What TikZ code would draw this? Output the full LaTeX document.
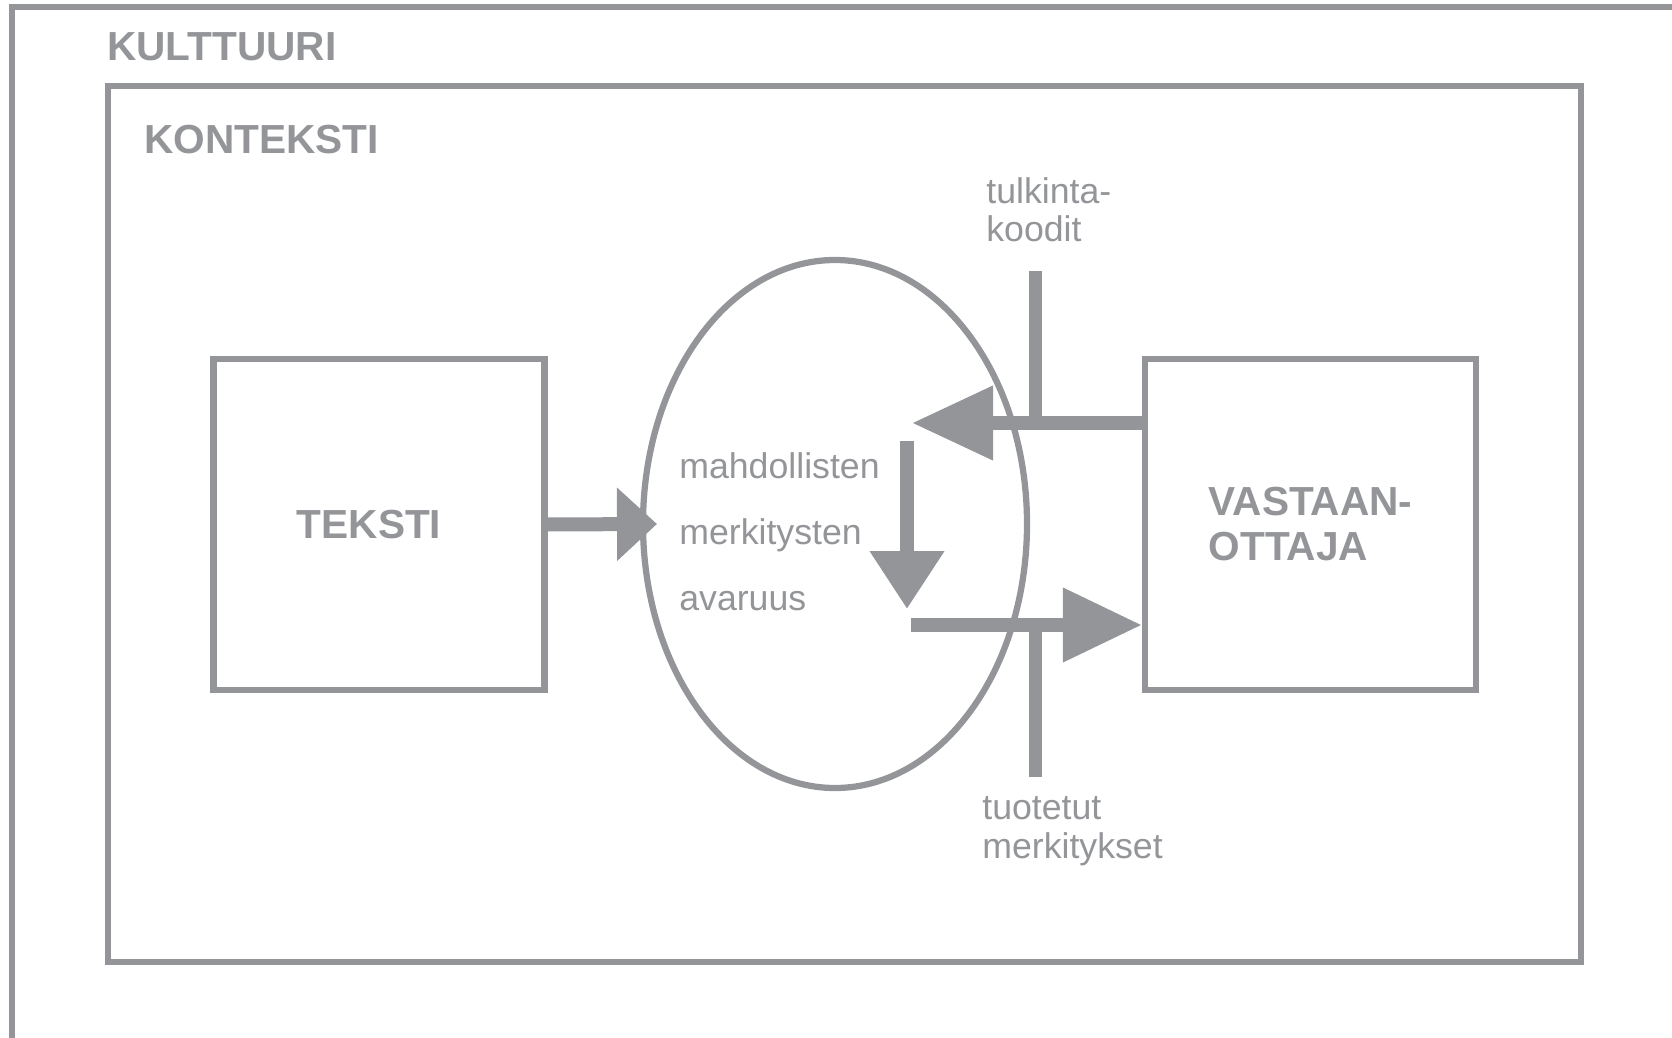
\documentclass[tikz,border=0pt]{standalone}
\usepackage{fontspec}
\setmainfont{Liberation Sans}
\usetikzlibrary{arrows.meta,shapes.geometric}
\definecolor{kgray}{RGB}{147,149,152}
\tikzset{
  frame/.style={draw=kgray, line width=1.25mm},
  box/.style={frame, rectangle, inner sep=0pt, minimum width=66.2mm, minimum height=66.2mm,
    text=kgray, font=\bfseries\fontsize{23.1}{25.6}\selectfont},
  title/.style={anchor=base west, inner sep=0pt, text=kgray, font=\bfseries\fontsize{23.1}{26}\selectfont},
  note/.style={anchor=base west, inner sep=0pt, text=kgray, align=left, font=\fontsize{20.3}{22.1}\selectfont},
  shaft/.style={draw=kgray, line width=2.8mm},
  bar/.style={draw=kgray, line width=2.6mm},
}

\begin{document}
\begin{tikzpicture}[x=0.2mm, y=-0.2mm]
  \useasboundingbox (0,0) rectangle (1672,1038);
  % kulttuuri and konteksti frames
  \draw[frame] (12,1038) -- (12,7) -- (1672,7);
  \draw[frame] (108,86) rectangle (1581,962);
  \node[title] (kulttuuri) at (107,61) {KULTTUURI};
  \node[title] (konteksti) at (144,154) {KONTEKSTI};

  \node[box] (teksti) at (379,524.5) {TEKSTI\hspace*{4mm}};
  \node[box, align=left] (vastaan) at (1310.5,524.5) {VASTAAN-\\OTTAJA};
  \node[frame, ellipse, inner sep=0pt, minimum width=76.8mm, minimum height=105.6mm] (avaruus) at (835,524) {};
  % multi-line notes sit on their last baseline
  \node[note, font=\fontsize{20.3}{37.4}\selectfont] (merkitys) at (679,610) {mahdollisten\\merkitysten\\avaruus};

  \coordinate (intip) at (657,524);
  \coordinate (koodi) at (912,423);
  \coordinate (tulkinta) at (1035,271);
  \coordinate (ylos) at (907,441);
  \coordinate (alas) at (907,609);
  \coordinate (tuotos) at (911,625);
  \coordinate (tuotettu) at (1035,777);

  \draw[shaft, -{Triangle[length=8mm,width=14.2mm]}] (teksti.east) -- (intip);
  \draw[shaft, -{Triangle[length=16.2mm,width=14.2mm]}] (vastaan.west |- koodi) -- (koodi);
  \draw[bar] (tulkinta) -- (tulkinta |- koodi);
  \draw[shaft, -{Triangle[length=11.6mm,width=14.2mm]}] (ylos) -- (alas);
  \draw[shaft, -{Triangle[length=15.8mm,width=14.2mm]}] (tuotos) -- (vastaan.west |- tuotos);
  \draw[bar] (tuotettu |- tuotos) -- (tuotettu);

  \node[note] (koodit) at (986,242) {tulkinta-\\koodit};
  \node[note] (tuotetut) at (982,858) {tuotetut\\merkitykset};
\end{tikzpicture}
\end{document}
